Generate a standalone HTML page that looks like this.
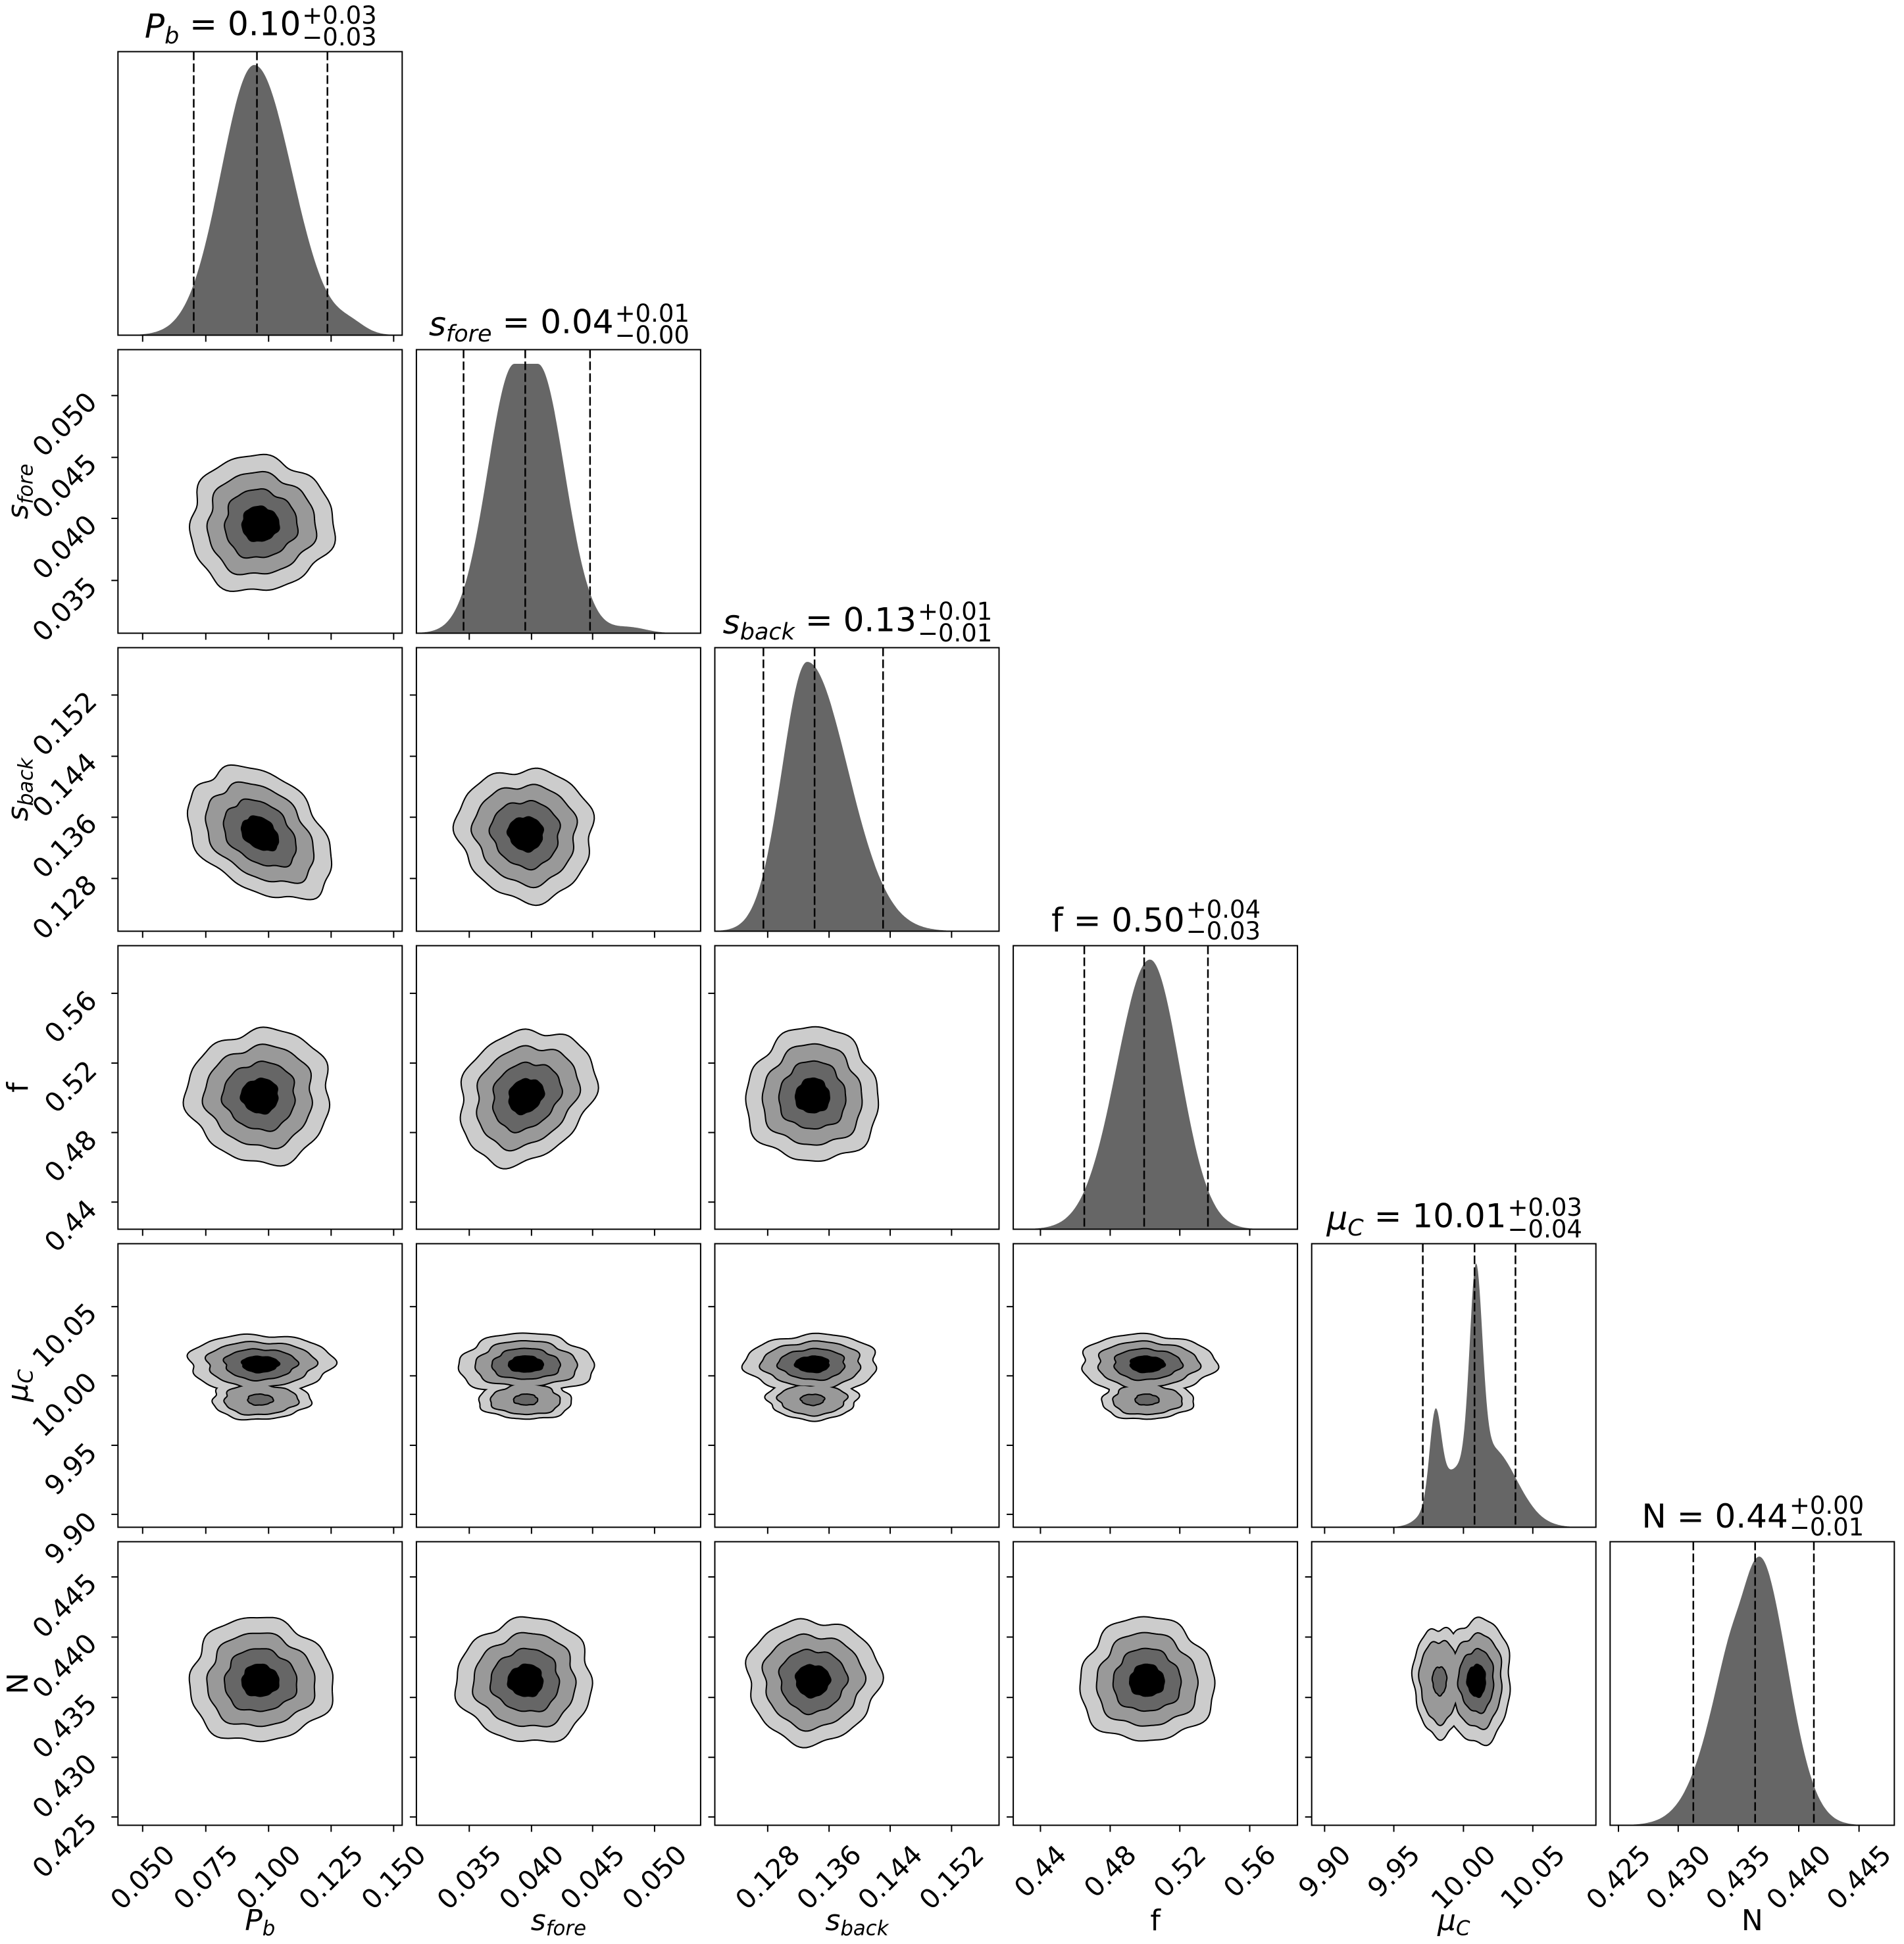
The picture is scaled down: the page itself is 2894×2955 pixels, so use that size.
<!DOCTYPE html>
<html><head><meta charset="utf-8">
<style>
html,body{margin:0;padding:0;background:#fff;}
svg{display:block;font-family:"DejaVu Sans","Liberation Sans",sans-serif;}
</style></head>
<body>
<svg id="s" xmlns="http://www.w3.org/2000/svg" width="2894" height="2955" viewBox="0 0 2894 2955">
<rect width="2894" height="2955" fill="#fff"/>
</svg>
<script>
const NS='http://www.w3.org/2000/svg';
const S=document.getElementById('s');
function el(tag,a,p){const e=document.createElementNS(NS,tag);for(const k in a)e.setAttribute(k,a[k]);(p||S).appendChild(e);return e;}
const L=j=>179.3+453.6*j, T=i=>78.5+453*i, W=432, H=431;
const g=(x,m,s)=>Math.exp(-(x-m)*(x-m)/(2*s*s));
const ag=(x,m,sl,sr)=>x<m?g(x,m,sl):g(x,m,sr);
const TF=41;
const P=[
 {ticks:[[0.0868,'0.050'],[0.309,'0.075'],[0.530,'0.100'],[0.750,'0.125'],[0.970,'0.150']],q:[0.2666,0.489,0.737],c:0.50,s:0.125,
  h:x=>0.953*ag(x,0.48,0.117,0.132)+0.03*g(x,0.82,0.05)},
 {ticks:[[0.186,'0.035'],[0.405,'0.040'],[0.620,'0.045'],[0.838,'0.050']],q:[0.166,0.383,0.611],c:0.385,s:0.118,
  h:x=>{let d=x<0.345?x-0.345:(x>0.427?x-0.427:0);return 0.95*g(d,0,0.094)+0.02*g(x,0.75,0.06);}},
 {ticks:[[0.186,'0.128'],[0.402,'0.136'],[0.617,'0.144'],[0.833,'0.152']],q:[0.171,0.351,0.592],c:0.344,s:0.115,
  h:x=>0.95*ag(x,0.325,0.088,0.142)},
 {ticks:[[0.0957,'0.44'],[0.341,'0.48'],[0.586,'0.52'],[0.832,'0.56']],q:[0.25,0.4606,0.685],c:0.47,s:0.117,
  h:x=>0.951*ag(x,0.481,0.117,0.104)},
 {ticks:[[0.0455,'9.90'],[0.289,'9.95'],[0.534,'10.00'],[0.778,'10.05']],q:[0.391,0.573,0.717],c:0.58,s:0.05,
  h:x=>0.67*g(x,0.578,0.022)+0.29*g(x,0.435,0.02)+0.28*g(x,0.63,0.09)+0.12*g(x,0.47,0.06)},
 {ticks:[[0.0293,'0.425'],[0.2396,'0.430'],[0.4508,'0.435'],[0.6637,'0.440'],[0.8758,'0.445']],q:[0.2928,0.5102,0.7169],c:0.51,s:0.108,
  h:x=>0.953*ag(x,0.521,0.127,0.1)-0.05*g(x,0.46,0.03)}
];
const LAB=[
 '<tspan font-style="italic">P</tspan><tspan font-style="italic" font-size="0.7em" dy="0.25em">b</tspan>',
 '<tspan font-style="italic">s</tspan><tspan font-style="italic" font-size="0.7em" dy="0.25em">fore</tspan>',
 '<tspan font-style="italic">s</tspan><tspan font-style="italic" font-size="0.7em" dy="0.25em">back</tspan>',
 'f',
 '<tspan font-style="italic">μ</tspan><tspan font-style="italic" font-size="0.7em" dy="0.25em">C</tspan>',
 'N'
];
const TV=[['0.10','+0.03','−0.03'],['0.04','+0.01','−0.00'],['0.13','+0.01','−0.01'],['0.50','+0.04','−0.03'],['10.01','+0.03','−0.04'],['0.44','+0.00','−0.01']];
const COLS=['#cccccc','#999999','#666666','#000000'];
const RS=[2,1.5,1,0.5];
function blobPath(x0,y0,b,r,seed){
  let d='';const n=140;
  for(let k=0;k<=n;k++){const t=2*Math.PI*k/n;
    const w=1+0.045*Math.sin(3*t+seed)+0.03*Math.sin(7*t+2*seed)+0.02*Math.sin(11*t+3*seed);
    const ux=Math.cos(t)*r*w, uy=(b.rho*Math.cos(t)+Math.sqrt(1-b.rho*b.rho)*Math.sin(t))*r*w;
    const px=x0+(b.cx+b.sx*ux)*W, py=y0+H-(b.cy+b.sy*uy)*H;
    d+=(k?'L':'M')+px.toFixed(1)+','+py.toFixed(1);}
  return d+'Z';
}
let cid=0;
for(let i=0;i<6;i++)for(let j=0;j<=i;j++){
  const x0=L(j),y0=T(i);
  const cp=el('clipPath',{id:'c'+cid});el('rect',{x:x0,y:y0,width:W,height:H},cp);
  const G=el('g',{'clip-path':'url(#c'+cid+')'});cid++;
  if(i===j){
    const p=P[j];let d='M'+x0+','+(y0+H);
    for(let fx=0;fx<=1.0001;fx+=0.003){let h=Math.max(0,p.h(fx));if(h<0.002)h=0;d+='L'+(x0+fx*W).toFixed(1)+','+(y0+H-h*H).toFixed(1);}
    d+='L'+(x0+W)+','+(y0+H)+'Z';
    el('path',{d:d,fill:'#666666'},G);
    p.q.forEach(q=>el('line',{x1:x0+q*W,x2:x0+q*W,y1:y0,y2:y0+H,stroke:'#000','stroke-width':2.5,'stroke-dasharray':'13,5'},G));
  }else{
    let rho=0; if(i===2&&j===0)rho=-0.35; if(i===3&&j===1)rho=0.2; if(i===2&&j===1)rho=-0.05;
    const blobs=[];
    if(i===4){
      blobs.push({cx:P[j].c,cy:0.575,sx:P[j].s,sy:0.052,rho:0,sec:false});
      blobs.push({cx:P[j].c,cy:0.45,sx:0.68*P[j].s,sy:0.034,rho:0,sec:true});
    }else if(j===4){
      blobs.push({cx:0.58,cy:P[i].c,sx:0.06,sy:P[i].s,rho:0,sec:false});
      blobs.push({cx:0.45,cy:P[i].c,sx:0.045,sy:0.88*P[i].s,rho:0,sec:true});
    }else blobs.push({cx:P[j].c,cy:P[i].c,sx:P[j].s,sy:P[i].s,rho:rho,sec:false});
    const seed=i*1.7+j*2.3;
    for(let k=0;k<4;k++){
      const items=[];
      blobs.forEach((b,bi)=>{let r=RS[k];if(b.sec){if(k>=3)return;if(k===2)r=0.5;}items.push(blobPath(x0,y0,b,r,seed+bi));});
      items.forEach(d=>el('path',{d:d,fill:COLS[k],stroke:'#000','stroke-width':4,'stroke-linejoin':'round'},G));
      items.forEach(d=>el('path',{d:d,fill:COLS[k]},G));
    }
    P[i].ticks.forEach(t=>{const y=y0+H-t[0]*H;el('line',{x1:x0-10,x2:x0,y1:y,y2:y,stroke:'#000','stroke-width':2});});
  }
  el('rect',{x:x0,y:y0,width:W,height:H,fill:'none',stroke:'#000','stroke-width':2});
  P[j].ticks.forEach(t=>{const x=x0+t[0]*W;el('line',{x1:x,x2:x,y1:y0+H,y2:y0+H+10,stroke:'#000','stroke-width':2});});
  if(i===5){
    P[j].ticks.forEach(t=>{const x=x0+t[0]*W;
      const e=el('text',{'font-size':TF,'text-anchor':'middle','dominant-baseline':'central'});e.textContent=t[1];
      const w=e.getComputedTextLength();const box=(w+0.73*TF)*0.7071;
      e.setAttribute('transform','translate('+x.toFixed(1)+','+(y0+H+27+box/2).toFixed(1)+') rotate(-45)');});
  }
  if(j===0&&i>0){
    P[i].ticks.forEach(t=>{const y=y0+H-t[0]*H;
      const e=el('text',{'font-size':TF,'text-anchor':'middle','dominant-baseline':'central'});e.textContent=t[1];
      const w=e.getComputedTextLength();const box=(w+0.73*TF)*0.7071;
      e.setAttribute('transform','translate('+(x0-29-box/2).toFixed(1)+','+(y+0.42*box).toFixed(1)+') rotate(-45)');});
  }
}
for(let j=0;j<6;j++){
  const e=el('text',{x:L(j)+W/2,y:2934,'font-size':44,'text-anchor':'middle'});e.innerHTML=LAB[j];
}
for(let i=1;i<6;i++){
  const e=el('text',{'font-size':44,'text-anchor':'middle',transform:'translate(42,'+(T(i)+H/2)+') rotate(-90)'});e.innerHTML=LAB[i];
}
for(let k=0;k<6;k++){
  const yb=T(k)-21.5, cx=L(k)+W/2;
  const m=el('text',{'font-size':50,'text-anchor':'start',y:yb});
  m.innerHTML=LAB[k]+'<tspan dy="'+(LAB[k].indexOf('dy')>=0?'-0.25em':'0')+'"> = '+TV[k][0]+'</tspan>';
  const up=el('text',{'font-size':37,y:yb-21});up.textContent=TV[k][1];
  const dn=el('text',{'font-size':37,y:yb+12});dn.textContent=TV[k][2];
  const wm=m.getComputedTextLength(), ws=Math.max(up.getComputedTextLength(),dn.getComputedTextLength());
  const x=cx-(wm+ws)/2;
  m.setAttribute('x',x);up.setAttribute('x',x+wm+2);dn.setAttribute('x',x+wm+2);
}
</script>
</body></html>
